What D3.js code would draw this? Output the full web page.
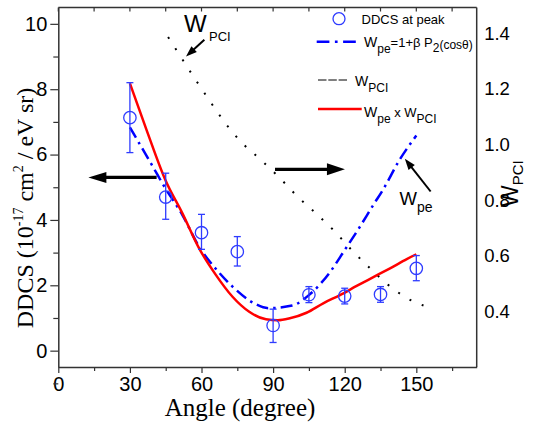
<!DOCTYPE html>
<html>
<head>
<meta charset="utf-8">
<script src="https://cdn.jsdelivr.net/npm/d3@7"></script>
<style>
  body { margin: 0; background: #fff; }
  svg { display: block; }
</style>
</head>
<body>
<div id="chart"></div>
<script>
// DDCS at peak
var angles   = [30, 45, 60, 75, 90, 105, 120, 135, 150];
var ddcs     = [7.13, 4.70, 3.61, 3.03, 0.77, 1.71, 1.67, 1.72, 2.52];
var errLow   = [6.06, 4.02, 3.10, 2.59, 0.25, 1.47, 1.43, 1.48, 2.14];
var errHigh  = [8.20, 5.43, 4.17, 3.49, 1.27, 1.96, 1.91, 1.96, 2.91];

// W_pe = 1 + beta P2(cos theta), left axis units
var wpeAngle = [30, 40, 44, 52, 59, 67, 73, 82, 88, 98, 105, 114, 120, 126, 132, 136, 143, 150];
var wpeValue = [6.83, 5.58, 5.07, 4.15, 3.18, 2.42, 1.96, 1.45, 1.30, 1.38, 1.70, 2.42, 3.08, 3.75, 4.46, 4.92, 5.84, 6.58];

// W_pe x W_PCI, left axis units
var prodAngle = [30, 37, 45, 52, 59, 66, 73, 80, 87, 92, 97, 104, 111, 118, 125, 132, 139, 146, 150];
var prodValue = [8.18, 6.75, 5.20, 4.20, 3.13, 2.32, 1.65, 1.19, 0.96, 0.93, 0.99, 1.16, 1.45, 1.70, 1.98, 2.25, 2.52, 2.80, 2.95];

// W_PCI, right axis units
var pciAngle = [46, 58, 64, 70, 77, 85, 93, 100, 108, 116, 123, 131, 139, 148, 153];
var pciValue = [1.387, 1.227, 1.150, 1.077, 1.006, 0.944, 0.878, 0.815, 0.752, 0.686, 0.620, 0.552, 0.490, 0.439, 0.421];

var xTicks      = [0, 30, 60, 90, 120, 150];
var xMinorTicks = [15, 45, 75, 105, 135, 165];
var yLeftTicks  = [0, 2, 4, 6, 8, 10];
var yLeftMinor  = [-1, 1, 3, 5, 7, 9];
var yRightTicks = [0.4, 0.6, 0.8, 1.0, 1.2, 1.4];

var W = 533, H = 431;
var sans = "'Liberation Sans', Arial, sans-serif";
var serif = "'Liberation Serif', 'Times New Roman', serif";
var blue = "#0000ff", pointBlue = "#2f3cff", red = "#ff0000", axisCol = "#333";

var svg = d3.select("#chart").append("svg")
    .attr("width", W).attr("height", H);

var x = d3.scaleLinear().domain([0, 175.3]).range([58.3, 476.7]);
var yL = d3.scaleLinear().domain([-0.5, 10.5]).range([367, 7.5]);
var yR = d3.scaleLinear().domain([0.2, 1.493]).range([367, 7.5]);

var x0 = x.range()[0], x1 = x.range()[1];
var yb = yL.range()[0], yt = yL.range()[1];

// Frame: top and right
svg.append("line").attr("x1", x0).attr("x2", x1).attr("y1", yt).attr("y2", yt)
    .attr("stroke", axisCol).attr("stroke-width", 1.5);
svg.append("line").attr("x1", x1).attr("x2", x1).attr("y1", yt).attr("y2", yb)
    .attr("stroke", axisCol).attr("stroke-width", 1.5);

// Top ticks inward
svg.append("g").selectAll("line")
    .data(xTicks.concat(xMinorTicks))
    .join("line")
    .attr("x1", function(d) { return x(d); }).attr("x2", function(d) { return x(d); })
    .attr("y1", yt).attr("y2", yt + 4)
    .attr("stroke", axisCol).attr("stroke-width", 1.2);

// Bottom axis
var xAxis = d3.axisBottom(x).tickValues(xTicks).tickSize(6).tickSizeOuter(0).tickPadding(4);
var gx = svg.append("g").attr("transform", "translate(0," + yb + ")").call(xAxis);
gx.selectAll("line").attr("stroke", axisCol).attr("stroke-width", 1.2);
gx.select(".domain").attr("stroke", axisCol).attr("stroke-width", 1.5);
gx.selectAll("text").attr("font-family", sans).attr("font-size", 20).attr("fill", "#000");
svg.append("g").attr("transform", "translate(0," + yb + ")")
    .call(d3.axisBottom(x).tickValues(xMinorTicks).tickSize(4).tickFormat(""))
    .call(function(g) { g.select(".domain").remove(); })
    .selectAll("line").attr("stroke", axisCol).attr("stroke-width", 1.2);

// Left axis
var yAxis = d3.axisLeft(yL).tickValues(yLeftTicks).tickSize(8).tickSizeOuter(0).tickPadding(3);
var gy = svg.append("g").attr("transform", "translate(" + x0 + ",0)").call(yAxis);
gy.selectAll("line").attr("stroke", axisCol).attr("stroke-width", 1.2);
gy.select(".domain").attr("stroke", axisCol).attr("stroke-width", 1.5);
gy.selectAll("text").attr("font-family", sans).attr("font-size", 20).attr("fill", "#000");
svg.append("g").attr("transform", "translate(" + x0 + ",0)")
    .call(d3.axisLeft(yL).tickValues(yLeftMinor).tickSize(5).tickFormat(""))
    .call(function(g) { g.select(".domain").remove(); })
    .selectAll("line").attr("stroke", axisCol).attr("stroke-width", 1.2);

// Right axis labels only
svg.append("g").selectAll("text")
    .data(yRightTicks)
    .join("text")
    .attr("x", x1 + 7.5)
    .attr("y", function(d) { return yR(d); })
    .attr("dy", "0.35em")
    .attr("font-family", sans).attr("font-size", 18.5)
    .text(function(d) { return d3.format(".1f")(d); });

// Axis titles
svg.append("text")
    .attr("x", 240).attr("y", 416)
    .attr("text-anchor", "middle")
    .attr("font-family", serif).attr("font-size", 25)
    .text("Angle (degree)");

var ylab = svg.append("text")
    .attr("transform", "translate(33,208) rotate(-90)")
    .attr("text-anchor", "middle")
    .attr("font-family", serif).attr("font-size", 24);
ylab.append("tspan").text("DDCS (10");
ylab.append("tspan").attr("font-size", 14).attr("dy", -10).text("-17");
ylab.append("tspan").attr("dy", 10).text(" cm");
ylab.append("tspan").attr("font-size", 14).attr("dy", -10).text("2");
ylab.append("tspan").attr("dy", 10).text(" / eV sr)");

var rlab = svg.append("text")
    .attr("transform", "translate(518,207) rotate(-90)")
    .attr("font-family", sans).attr("font-size", 23);
rlab.append("tspan").text("W");
rlab.append("tspan").attr("font-size", 15).attr("dy", 5).text("PCI");

// Curves
var linePci = d3.line()
    .x(function(d, i) { return x(pciAngle[i]); })
    .y(function(d) { return yR(d); })
    .curve(d3.curveMonotoneX);
svg.append("path")
    .attr("d", linePci(pciValue))
    .attr("fill", "none").attr("stroke", "#000")
    .attr("stroke-width", 2).attr("stroke-dasharray", "2 11.3");

var lineWpe = d3.line()
    .x(function(d, i) { return x(wpeAngle[i]); })
    .y(function(d) { return yL(d); })
    .curve(d3.curveMonotoneX);
svg.append("path")
    .attr("d", lineWpe(wpeValue))
    .attr("fill", "none").attr("stroke", blue)
    .attr("stroke-width", 2.5).attr("stroke-dasharray", "12 5 2.5 5");

var lineProd = d3.line()
    .x(function(d, i) { return x(prodAngle[i]); })
    .y(function(d) { return yL(d); })
    .curve(d3.curveMonotoneX);
svg.append("path")
    .attr("d", lineProd(prodValue))
    .attr("fill", "none").attr("stroke", red)
    .attr("stroke-width", 2.5);

// Error bars and points
var gp = svg.append("g").attr("stroke", pointBlue).attr("fill", "none").attr("stroke-width", 1.3);
angles.forEach(function(a, i) {
    var cx = x(a);
    gp.append("line").attr("x1", cx).attr("x2", cx).attr("y1", yL(errLow[i])).attr("y2", yL(errHigh[i]));
    gp.append("line").attr("x1", cx - 3.5).attr("x2", cx + 3.5).attr("y1", yL(errLow[i])).attr("y2", yL(errLow[i]));
    gp.append("line").attr("x1", cx - 3.5).attr("x2", cx + 3.5).attr("y1", yL(errHigh[i])).attr("y2", yL(errHigh[i]));
});
gp.selectAll("circle")
    .data(ddcs)
    .join("circle")
    .attr("cx", function(d, i) { return x(angles[i]); })
    .attr("cy", function(d) { return yL(d); })
    .attr("r", 6.2)
    .attr("fill", "none");

// Arrows
function arrow(xa, ya, xb, yb2, width, headLen, headW) {
    var dx = xb - xa, dy = yb2 - ya, len = Math.sqrt(dx * dx + dy * dy);
    var ux = dx / len, uy = dy / len;
    var bx = xb - ux * headLen, by = yb2 - uy * headLen;
    svg.append("line").attr("x1", xa).attr("y1", ya).attr("x2", bx + ux).attr("y2", by + uy)
        .attr("stroke", "#000").attr("stroke-width", width);
    var px = -uy * headW / 2, py = ux * headW / 2;
    svg.append("path")
        .attr("d", "M" + xb + "," + yb2 + "L" + (bx + px) + "," + (by + py) + "L" + (bx - px) + "," + (by - py) + "Z")
        .attr("fill", "#000");
}
arrow(x(41.2), yL(5.30), x(12.6), yL(5.30), 3.2, 18, 11);
arrow(x(90.8), yL(5.55), x(120.1), yL(5.55), 3.2, 18, 12);
arrow(x(61.2), yL(9.51), x(53.5), yL(9.0), 2, 11, 8);
arrow(x(156.0), yL(4.87), x(145.2), yL(5.87), 2, 11, 8);

// Annotation labels
svg.append("text").attr("x", 184).attr("y", 32)
    .attr("font-family", sans).attr("font-size", 24).text("W");
svg.append("text").attr("x", 209).attr("y", 41)
    .attr("font-family", sans).attr("font-size", 13).text("PCI");
svg.append("text").attr("x", 399.5).attr("y", 205)
    .attr("font-family", sans).attr("font-size", 18.5).text("W");
svg.append("text").attr("x", 417).attr("y", 212)
    .attr("font-family", sans).attr("font-size", 14).text("pe");

// Legend
var lg = svg.append("g").attr("font-family", sans);
lg.append("circle").attr("cx", 339).attr("cy", 18.7).attr("r", 6)
    .attr("fill", "none").attr("stroke", pointBlue).attr("stroke-width", 1.3);
lg.append("text").attr("x", 361.5).attr("y", 23.5).attr("font-size", 13).text("DDCS at peak");

lg.append("line").attr("x1", 316.7).attr("x2", 356.7).attr("y1", 41.7).attr("y2", 41.7)
    .attr("stroke", blue).attr("stroke-width", 2.5).attr("stroke-dasharray", "12.7 5.5 2.7 5.5");
var t2 = lg.append("text").attr("x", 364).attr("y", 46.5).attr("font-size", 14);
t2.append("tspan").text("W");
t2.append("tspan").attr("font-size", 12).attr("dy", 6).text("pe");
t2.append("tspan").attr("font-size", 13).attr("dy", -6).text("=1+\u03b2 P");
t2.append("tspan").attr("font-size", 12).attr("dy", 5).text("2");
t2.append("tspan").attr("font-size", 12).attr("dy", -3).text("(cos\u03b8)");

lg.append("line").attr("x1", 318).attr("x2", 347).attr("y1", 80).attr("y2", 80)
    .attr("stroke", "#000").attr("stroke-width", 1).attr("stroke-dasharray", "8.5 1.8");
var t3 = lg.append("text").attr("x", 355).attr("y", 86).attr("font-size", 14);
t3.append("tspan").text("W");
t3.append("tspan").attr("font-size", 12).attr("dy", 6).text("PCI");

lg.append("line").attr("x1", 318).attr("x2", 361.7).attr("y1", 109).attr("y2", 109)
    .attr("stroke", red).attr("stroke-width", 2.5);
var t4 = lg.append("text").attr("x", 364).attr("y", 117).attr("font-size", 14);
t4.append("tspan").text("W");
t4.append("tspan").attr("font-size", 12).attr("dy", 6).text("pe");
t4.append("tspan").attr("font-size", 13).attr("dy", -6).text(" x W");
t4.append("tspan").attr("font-size", 12).attr("dy", 6).text("PCI");
</script>
</body>
</html>
